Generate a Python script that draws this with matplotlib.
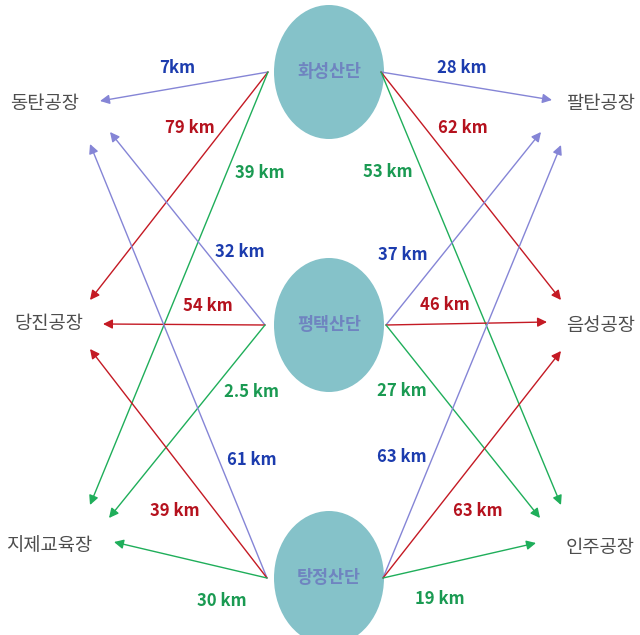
import matplotlib
matplotlib.use('Agg')
import matplotlib.pyplot as plt
from matplotlib.patches import Ellipse

plt.rcParams['font.family'] = ['Noto Sans CJK KR', 'DejaVu Sans']

# --- data ---
sources = ['화성산단', '평택산단', '탕정산단']
left_sites = ['동탄공장', '당진공장', '지제교육장']
right_sites = ['팔탄공장', '음성공장', '인주공장']
# distances, rows = source, cols = destination
left_km = [['7km', '79 km', '39 km'],
           ['32 km', '54 km', '2.5 km'],
           ['61 km', '39 km', '30 km']]
right_km = [['28 km', '62 km', '53 km'],
            ['37 km', '46 km', '27 km'],
            ['63 km', '63 km', '19 km']]

# --- layout (pixels) ---
src_y = [72, 325, 578]
src_left_x = [268, 265, 267]
src_right_x = [381, 386, 383]
left_tips = [[(100, 101), (90, 300), (90, 505)],
             [(110, 132), (103, 324), (109, 518)],
             [(90, 144), (90, 349), (114, 542)]]
right_tips = [[(552, 100), (561, 300), (561, 505)],
              [(541, 132), (547, 322), (540, 518)],
              [(561, 145), (561, 351), (536, 543)]]
left_lbl_pos = [[(177, 68), (190, 128), (260, 173)],
                [(240, 252), (208, 306), (252, 392)],
                [(252, 460), (175, 511), (222, 601)]]
right_lbl_pos = [[(462, 68), (463, 128), (388, 172)],
                 [(403, 255), (445, 305), (402, 391)],
                 [(402, 457), (478, 511), (440, 599)]]
left_site_pos = [(10, 103), (14, 324), (6, 546)]
right_site_pos = [(566, 103), (566, 325), (566, 547)]

arrow_colors = ['#8585d6', '#c41a24', '#1fae5a']
text_colors = ['#1c3cae', '#b5121e', '#1a9a52']

fig = plt.figure(figsize=(6.4, 6.35), dpi=100)
ax = fig.add_axes([0, 0, 1, 1])
ax.set_xlim(0, 640)
ax.set_ylim(635, 0)
ax.axis('off')

# 산단 원
for name, y in zip(sources, src_y):
    ax.add_patch(Ellipse((329, y), 110, 134, facecolor='#85c2c9', edgecolor='none', zorder=1))
    ax.text(329, y, name, ha='center', va='center', fontsize=12.5, fontweight='bold',
            color='#6f84c0', zorder=3)

# 공장 이름
for name, (x, y) in zip(left_sites, left_site_pos):
    ax.text(x, y, name, ha='left', va='center', fontsize=13.5, color='#4d4d4d')
for name, (x, y) in zip(right_sites, right_site_pos):
    ax.text(x, y, name, ha='left', va='center', fontsize=13.5, color='#4d4d4d')

# 화살표 + 거리
def draw(x0, y0, tip, label, lpos, j):
    ax.annotate('', xy=tip, xytext=(x0, y0),
                arrowprops=dict(arrowstyle='-|>', color=arrow_colors[j], lw=1.0,
                                mutation_scale=14, shrinkA=0, shrinkB=0), zorder=2)
    ax.text(lpos[0], lpos[1], label, ha='center', va='center', fontsize=12,
            fontweight='bold', color=text_colors[j], zorder=4)

for i in range(3):
    for j in range(3):
        draw(src_left_x[i], src_y[i], left_tips[i][j], left_km[i][j], left_lbl_pos[i][j], j)
        draw(src_right_x[i], src_y[i], right_tips[i][j], right_km[i][j], right_lbl_pos[i][j], j)

fig.savefig('out.png', dpi=100)
